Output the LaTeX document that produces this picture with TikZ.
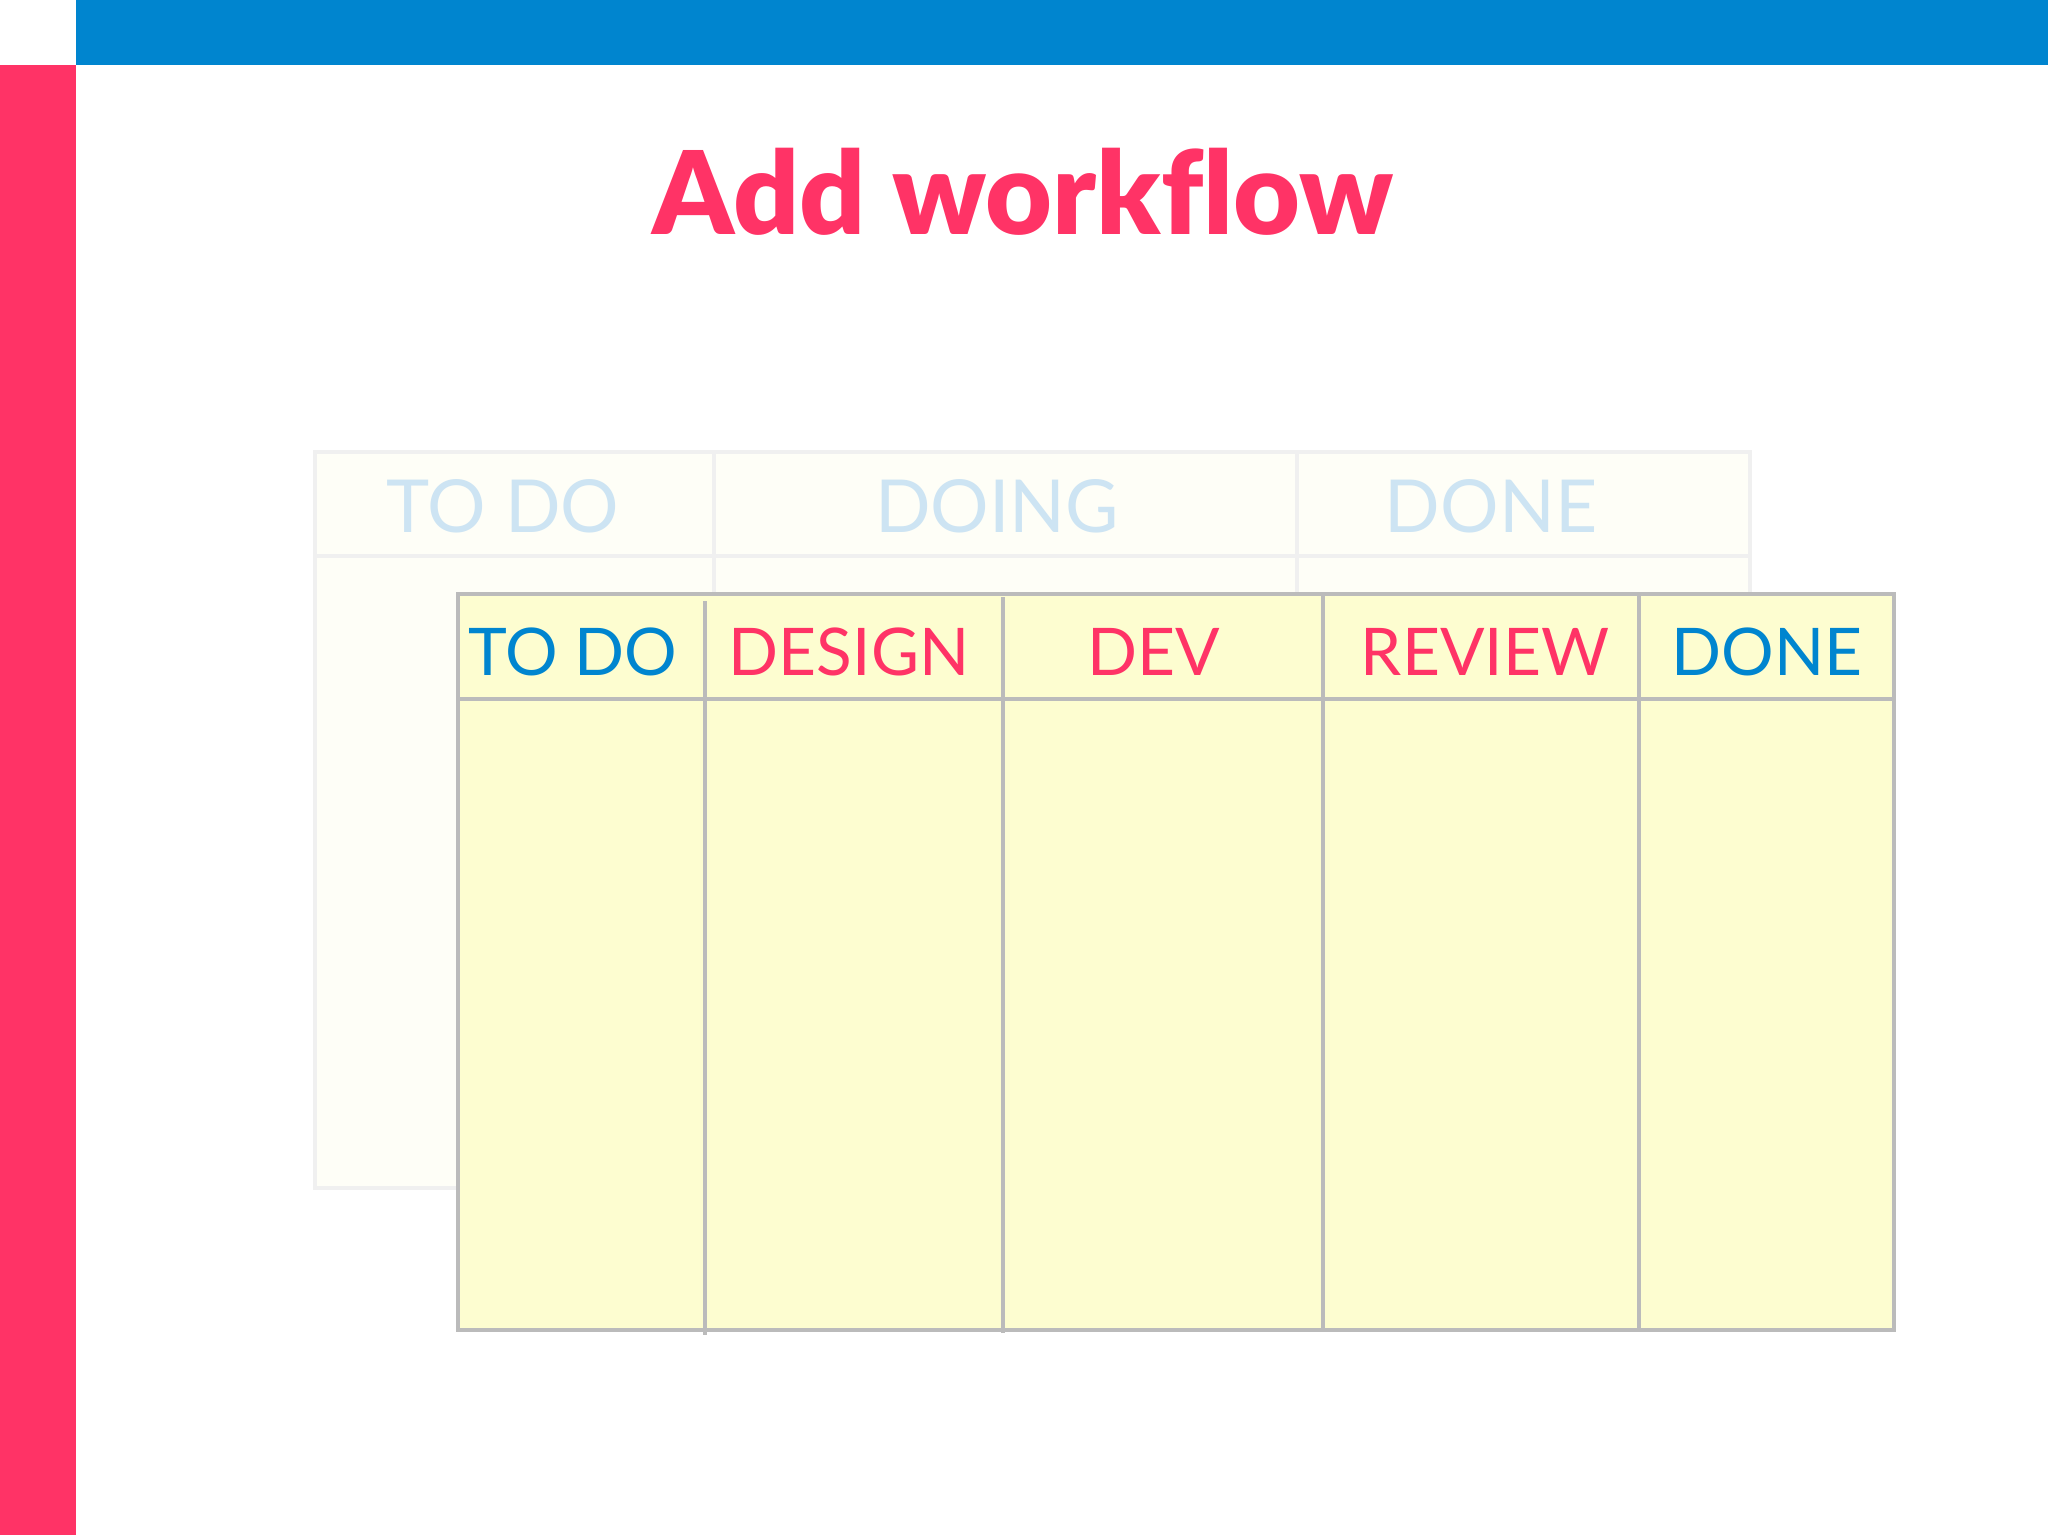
\documentclass[tikz,border=0pt]{standalone}
\usepackage{fontspec}
\setmainfont{Lato}
\newfontfamily\titlefont[Ligatures=NoCommon]{Lato Black}
\definecolor{brandblue}{HTML}{0085CF}
\definecolor{brandpink}{HTML}{FF3366}
\definecolor{paleblue}{HTML}{CDE4F3}
\definecolor{cardfill}{HTML}{FDFDD0}
\definecolor{ghostfill}{HTML}{FEFEF7}
\definecolor{ghostline}{HTML}{F0F0F0}
\definecolor{gridline}{HTML}{BBBBBB}
\tikzset{
  ghostlabel/.style={font=\fontsize{20.8}{24}\selectfont, text=paleblue, anchor=base, inner sep=0pt},
  collabel/.style={font=\fontsize{18.7}{22}\selectfont, anchor=base, inner sep=0pt},
  ghostgrid/.style={draw=ghostline, line width=1.3pt},
  cardgrid/.style={draw=gridline, line width=1.1pt},
}
\begin{document}
\begin{tikzpicture}[x=0.01cm, y=-0.01cm]
\useasboundingbox (0,0) rectangle (2048,1535);
\fill[white] (0,0) rectangle (2048,1535);
% bars
\fill[brandblue] (76,0) rectangle (2048,65);
\fill[brandpink] (0,65) rectangle (76,1535);
% title
\node[font=\titlefont\fontsize{32.8}{40}\selectfont, text=brandpink, anchor=base, inner sep=0pt] (title) at (1023,234) {Add workflow};
% ghost board
\fill[ghostfill] (315,452) rectangle (1750,1188);
\draw[ghostgrid] (315,452) rectangle (1750,1188);
\draw[ghostgrid] (315,556) -- (1750,556);
\draw[ghostgrid] (714,452) -- (714,600);
\draw[ghostgrid] (1297,452) -- (1297,600);
\node[ghostlabel] (gtodo) at (503,532) {TO DO};
\node[ghostlabel] (gdoing) at (997,532) {DOING};
\node[ghostlabel] (gdone) at (1491,532) {DONE};
% front board
\fill[cardfill] (458,594) rectangle (1894,1330);
\draw[cardgrid] (458,594) rectangle (1894,1330);
\draw[cardgrid] (458,699) -- (1894,699);
\draw[cardgrid] (705,601) -- (705,1335);
\draw[cardgrid] (1003,597) -- (1003,1333);
\draw[cardgrid] (1323,594) -- (1323,1330);
\draw[cardgrid] (1639,594) -- (1639,1330);
\node[collabel, text=brandblue] (todo) at (573,675) {TO DO};
\node[collabel, text=brandpink] (design) at (849,675) {DESIGN};
\node[collabel, text=brandpink] (dev) at (1154,675) {DEV};
\node[collabel, text=brandpink] (review) at (1485,675) {REVIEW};
\node[collabel, text=brandblue] (done) at (1767,675) {DONE};
\end{tikzpicture}
\end{document}
